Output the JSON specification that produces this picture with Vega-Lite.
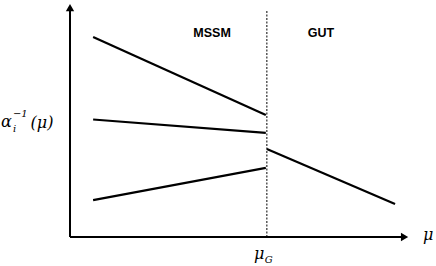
{
  "$schema": "https://vega.github.io/schema/vega-lite/v6.json",
  "width": 340,
  "height": 235,
  "autosize": "none",
  "padding": {"left": 70, "top": 2, "right": 26, "bottom": 29},
  "background": "white",
  "config": {"view": {"stroke": null}},
  "datasets": {
    "lines": [
      {"s": "a", "x": 6.8, "y": 85.1},
      {"s": "a", "x": 57.6, "y": 51.9},
      {"s": "b", "x": 6.8, "y": 50.0},
      {"s": "b", "x": 57.6, "y": 44.3},
      {"s": "c", "x": 6.8, "y": 15.7},
      {"s": "c", "x": 57.6, "y": 29.4},
      {"s": "d", "x": 57.9, "y": 37.4},
      {"s": "d", "x": 95.6, "y": 14.0}
    ],
    "axes": [
      {"x": 0, "y": 0, "x2": 98, "y2": 0},
      {"x": 0, "y": 0, "x2": 0, "y2": 97}
    ],
    "arrowUp": [{"x": 0, "y": 97.6}],
    "arrowRight": [{"x": 98.4, "y": 0}],
    "divider": [{"x": 57.9, "y": 0, "y2": 96.2}],
    "regions": [
      {"t": "MSSM", "x": 41.8, "y": 86.8},
      {"t": "GUT", "x": 73.8, "y": 86.8}
    ],
    "mathMain": [
      {"t": "α", "x": -20.3, "y": 46.8},
      {"t": "(μ)", "x": -11.6, "y": 46.4},
      {"t": "μ", "x": 54.1, "y": -9.4},
      {"t": "μ", "x": 103.8, "y": -1.3}
    ],
    "mathScript": [
      {"t": "−1", "x": -16.8, "y": 51.0},
      {"t": "i", "x": -16.8, "y": 44.7},
      {"t": "G", "x": 57.3, "y": -11.1}
    ]
  },
  "layer": [
    {
      "data": {"name": "axes"},
      "mark": {"type": "rule", "color": "black", "strokeWidth": 2},
      "encoding": {
        "x": {"field": "x", "type": "quantitative", "scale": {"domain": [0, 100]}, "axis": null},
        "y": {"field": "y", "type": "quantitative", "scale": {"domain": [0, 100]}, "axis": null},
        "x2": {"field": "x2"},
        "y2": {"field": "y2"}
      }
    },
    {
      "data": {"name": "arrowUp"},
      "mark": {"type": "point", "shape": "triangle-up", "filled": true, "color": "black", "opacity": 1, "size": 70},
      "encoding": {
        "x": {"field": "x", "type": "quantitative"},
        "y": {"field": "y", "type": "quantitative"}
      }
    },
    {
      "data": {"name": "arrowRight"},
      "mark": {"type": "point", "shape": "triangle-right", "filled": true, "color": "black", "opacity": 1, "size": 70},
      "encoding": {
        "x": {"field": "x", "type": "quantitative"},
        "y": {"field": "y", "type": "quantitative"}
      }
    },
    {
      "data": {"name": "divider"},
      "mark": {"type": "rule", "color": "black", "strokeWidth": 1, "strokeDash": [2, 1.5]},
      "encoding": {
        "x": {"field": "x", "type": "quantitative"},
        "y": {"field": "y", "type": "quantitative"},
        "y2": {"field": "y2"}
      }
    },
    {
      "data": {"name": "lines"},
      "mark": {"type": "line", "color": "black", "strokeWidth": 2.2},
      "encoding": {
        "x": {"field": "x", "type": "quantitative"},
        "y": {"field": "y", "type": "quantitative"},
        "detail": {"field": "s"}
      }
    },
    {
      "data": {"name": "regions"},
      "mark": {"type": "text", "font": "Liberation Sans", "fontWeight": "bold", "fontSize": 12.5, "align": "center", "baseline": "middle", "color": "black"},
      "encoding": {
        "x": {"field": "x", "type": "quantitative"},
        "y": {"field": "y", "type": "quantitative"},
        "text": {"field": "t"}
      }
    },
    {
      "data": {"name": "mathMain"},
      "mark": {"type": "text", "font": "DejaVu Serif", "fontStyle": "italic", "fontSize": 16, "align": "left", "baseline": "alphabetic", "color": "black"},
      "encoding": {
        "x": {"field": "x", "type": "quantitative"},
        "y": {"field": "y", "type": "quantitative"},
        "text": {"field": "t"}
      }
    },
    {
      "data": {"name": "mathScript"},
      "mark": {"type": "text", "font": "DejaVu Serif", "fontStyle": "italic", "fontSize": 10, "align": "left", "baseline": "alphabetic", "color": "black"},
      "encoding": {
        "x": {"field": "x", "type": "quantitative"},
        "y": {"field": "y", "type": "quantitative"},
        "text": {"field": "t"}
      }
    }
  ]
}
